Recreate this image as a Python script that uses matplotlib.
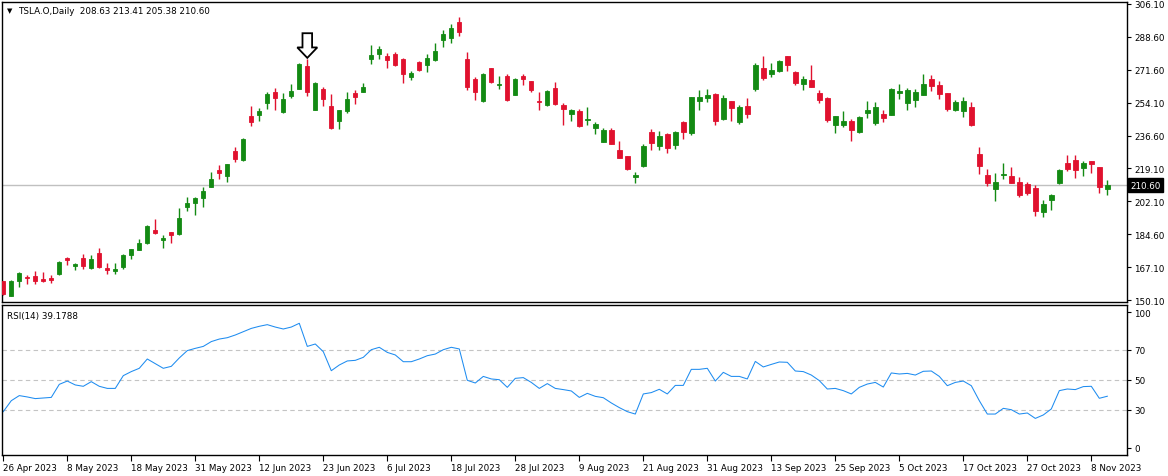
import matplotlib
matplotlib.use('Agg')
import matplotlib.pyplot as plt
import matplotlib.transforms as mtransforms
from matplotlib.patches import Polygon
import numpy as np

# ---- data (TSLA.O daily, 26 Apr 2023 .. 10 Nov 2023) ----
opens = [160.1, 152.4, 160.3, 162.4, 162.8, 161.2, 161.9, 163.8, 172.3, 168.2,
         172.3, 167.0, 174.9, 167.0, 165.6, 167.7, 173.8, 176.6, 180.3, 187.0,
         181.9, 185.9, 184.9, 199.1, 201.4, 204.0, 209.8, 218.6, 215.6, 228.6,
         224.1, 247.1, 247.8, 253.9, 259.7, 249.4, 257.8, 261.5, 273.4, 250.4,
         261.3, 252.3, 244.6, 249.7, 259.2, 259.9, 277.1, 279.9, 278.7, 279.7,
         277.1, 267.8, 275.5, 274.1, 276.6, 287.3, 288.4, 296.6, 277.1, 266.6,
         255.2, 272.4, 263.6, 268.2, 258.3, 268.2, 265.5, 255.0, 252.9, 261.8,
         252.9, 248.3, 249.7, 245.2, 240.9, 233.6, 239.7, 229.2, 226.0, 215.1,
         220.9, 238.6, 231.4, 237.6, 232.0, 243.9, 238.3, 255.2, 256.6, 258.7,
         245.7, 255.0, 244.1, 252.3, 261.5, 272.4, 269.4, 271.0, 278.7, 270.3,
         264.1, 266.0, 259.2, 256.6, 242.5, 242.5, 244.4, 238.8, 248.8, 243.6,
         248.1, 247.8, 259.4, 254.1, 255.7, 258.3, 266.6, 263.4, 259.2, 250.4,
         249.9, 251.8, 227.0, 216.0, 208.8, 216.2, 215.5, 212.3, 211.2, 209.1,
         196.7, 203.0, 211.9, 222.3, 223.9, 219.8, 223.3, 220.2, 208.63]
highs = [160.3, 160.7, 164.9, 163.5, 165.4, 164.9, 163.3, 170.7, 172.9, 169.8,
         174.3, 173.8, 177.5, 169.6, 169.6, 174.2, 177.0, 182.4, 189.6, 192.8,
         184.4, 185.9, 198.6, 204.4, 204.4, 209.8, 217.6, 221.2, 221.8, 230.7,
         235.5, 252.3, 251.5, 259.7, 261.8, 259.2, 263.9, 275.0, 277.1, 265.0,
         262.4, 258.7, 250.2, 259.7, 260.8, 264.5, 284.5, 284.0, 280.3, 280.8,
         277.6, 270.8, 276.1, 279.7, 285.5, 292.4, 295.6, 299.2, 280.8, 267.6,
         269.7, 272.4, 268.2, 269.2, 267.1, 269.2, 265.5, 259.7, 260.8, 265.0,
         253.9, 250.9, 250.8, 251.8, 243.9, 240.8, 240.8, 233.9, 226.0, 217.6,
         232.3, 240.2, 239.2, 238.1, 239.2, 244.4, 257.1, 260.8, 261.3, 259.2,
         258.1, 255.0, 252.9, 256.6, 275.0, 278.7, 275.0, 276.6, 278.9, 270.8,
         268.2, 273.9, 260.8, 257.1, 247.1, 249.7, 245.5, 247.1, 255.0, 254.5,
         250.2, 261.8, 263.9, 261.8, 261.3, 269.2, 268.7, 265.5, 259.2, 255.5,
         257.1, 254.5, 230.7, 219.1, 217.0, 222.3, 220.2, 214.9, 212.3, 210.7,
         202.8, 206.0, 219.1, 226.5, 226.5, 223.3, 223.3, 220.2, 213.41]
lows = [152.7, 152.4, 157.1, 158.7, 158.7, 159.4, 159.1, 163.3, 168.7, 166.1,
        166.6, 166.6, 167.2, 163.8, 164.0, 166.6, 171.7, 176.6, 179.8, 185.1,
        177.5, 180.3, 184.5, 197.2, 195.1, 199.3, 209.8, 214.0, 212.5, 223.0,
        223.5, 242.0, 244.6, 250.9, 250.4, 248.8, 256.7, 261.5, 257.8, 250.4,
        252.5, 240.4, 240.4, 248.8, 253.4, 259.9, 274.5, 277.1, 272.4, 273.4,
        264.5, 266.0, 270.8, 270.3, 276.1, 283.6, 285.5, 289.2, 261.0, 255.7,
        254.6, 264.6, 261.5, 255.2, 258.3, 263.4, 259.7, 250.4, 252.3, 252.9,
        242.5, 244.6, 241.3, 242.5, 237.8, 233.6, 232.5, 225.1, 218.8, 211.9,
        220.4, 229.3, 229.3, 227.8, 229.9, 235.1, 237.2, 250.4, 254.6, 242.5,
        245.1, 244.6, 243.0, 246.2, 260.4, 266.2, 267.8, 270.4, 271.0, 263.6,
        260.9, 262.5, 254.1, 244.1, 238.3, 241.5, 234.1, 238.3, 246.2, 242.5,
        244.1, 247.8, 256.2, 250.4, 252.0, 258.3, 260.4, 256.2, 249.9, 249.9,
        246.7, 242.0, 216.7, 210.4, 202.5, 214.0, 211.9, 204.6, 205.6, 194.6,
        194.0, 197.7, 211.4, 218.3, 214.6, 215.6, 217.2, 206.7, 205.38]
closes = [153.1, 160.1, 164.3, 161.9, 160.3, 160.1, 160.7, 170.1, 171.4, 169.1,
          168.2, 171.7, 167.7, 166.1, 166.4, 173.8, 177.0, 180.1, 189.1, 185.6,
          183.0, 184.5, 193.3, 201.2, 203.9, 207.6, 213.9, 217.2, 221.8, 224.6,
          235.0, 244.1, 249.9, 258.7, 256.7, 256.0, 260.3, 274.5, 259.5, 264.5,
          256.2, 240.9, 250.2, 256.0, 257.3, 262.4, 279.2, 282.4, 276.8, 274.0,
          269.2, 269.7, 271.5, 277.6, 281.3, 290.3, 293.5, 291.5, 262.5, 259.9,
          269.2, 265.2, 263.9, 255.7, 266.6, 266.7, 260.8, 254.6, 260.3, 253.4,
          250.9, 250.4, 241.8, 245.5, 242.9, 239.7, 232.5, 225.1, 219.3, 216.0,
          231.3, 233.0, 236.5, 230.4, 238.6, 238.8, 257.1, 257.1, 258.1, 244.6,
          256.6, 251.5, 251.8, 248.3, 273.9, 267.3, 271.3, 276.1, 274.1, 264.6,
          266.6, 262.5, 255.7, 245.1, 247.1, 244.4, 239.9, 246.6, 250.2, 251.8,
          246.2, 261.3, 260.3, 260.8, 259.7, 263.9, 263.1, 258.8, 250.9, 254.5,
          255.0, 242.5, 220.9, 211.9, 212.3, 216.5, 211.9, 205.6, 206.7, 197.2,
          200.7, 205.4, 218.6, 219.3, 218.8, 222.3, 221.9, 209.8, 210.60]

rsi = [28.9, 36.2, 39.6, 38.7, 37.6, 38.0, 38.4, 47.1, 49.3, 46.7,
       45.8, 48.9, 45.8, 44.4, 44.4, 52.9, 55.6, 57.8, 64.0, 60.9,
       57.8, 59.1, 64.7, 69.6, 71.1, 72.4, 75.6, 77.3, 78.2, 80.0,
       82.2, 84.4, 85.8, 86.9, 85.3, 84.0, 85.3, 87.8, 72.4, 74.0,
       68.9, 56.2, 60.0, 62.7, 63.1, 65.1, 70.2, 71.8, 68.4, 66.7,
       62.2, 62.2, 64.0, 66.2, 67.3, 70.2, 71.8, 70.7, 49.8, 48.0,
       52.4, 50.7, 50.2, 45.1, 51.1, 51.6, 48.4, 44.4, 47.6, 44.4,
       43.6, 42.7, 38.4, 41.1, 39.1, 38.2, 34.7, 31.6, 28.9, 27.3,
       40.7, 41.6, 43.8, 40.7, 46.4, 46.4, 57.1, 57.1, 57.8, 49.3,
       55.1, 52.4, 52.4, 50.7, 62.4, 58.7, 60.4, 62.0, 61.8, 56.0,
       55.6, 53.3, 49.6, 44.0, 44.4, 42.9, 40.7, 45.1, 47.3, 48.4,
       45.3, 54.7, 54.0, 54.4, 53.3, 55.8, 56.0, 52.4, 46.2, 48.4,
       49.3, 46.2, 36.2, 27.3, 27.3, 31.1, 30.2, 27.3, 28.0, 24.4,
       26.7, 30.7, 42.9, 44.0, 43.6, 45.6, 45.8, 37.8, 39.18]

date_labels = ['26 Apr 2023', '8 May 2023', '18 May 2023', '31 May 2023',
               '12 Jun 2023', '23 Jun 2023', '6 Jul 2023', '18 Jul 2023',
               '28 Jul 2023', '9 Aug 2023', '21 Aug 2023', '31 Aug 2023',
               '13 Sep 2023', '25 Sep 2023', '5 Oct 2023', '17 Oct 2023',
               '27 Oct 2023', '8 Nov 2023']
price_labels = ['306.10', '288.60', '271.60', '254.10', '236.60',
                '219.10', '202.10', '184.60', '167.10', '150.10']
rsi_levels = [30, 50, 70]
last_price = 210.60
arrow_bar = 38

GREEN = '#138a13'
RED = '#e0112e'
BLUE = '#1e8cf0'
FS = 6.3

W, H = 1168, 477


def box(l, t, r, b):
    return [l / W, 1 - b / H, (r - l) / W, (b - t) / H]


fig = plt.figure(figsize=(W / 100, H / 100), dpi=100)
ax = fig.add_axes(box(2, 3, 1127, 303))
ax2 = fig.add_axes(box(2, 306, 1127, 456), sharex=ax)

o = np.array(opens)
h = np.array(highs)
l = np.array(lows)
c = np.array(closes)
x = np.arange(len(o))
cols = np.where(c >= o, GREEN, RED)

# candles
ax.axhline(last_price, color='#c0c0c0', lw=1, zorder=1)
ax.vlines(x, l, h, colors=cols, lw=1, zorder=2)
body_h = np.maximum(np.abs(c - o), 0.3)
ax.bar(x, body_h, bottom=np.minimum(o, c), width=0.55, color=cols,
       edgecolor=cols, lw=0.6, zorder=3)

ax.set_xlim(-0.16, 140.46)
ax.set_ylim(149.05, 307.15)
ax.set_yticks(np.linspace(306.1, 150.1, len(price_labels)))
ax.set_yticklabels(price_labels)
ax.yaxis.tick_right()
ax.tick_params(axis='y', labelsize=FS, length=3, width=0.8, pad=2, colors='black')
ax.tick_params(axis='x', bottom=False, labelbottom=False)

# current price tag
tr = mtransforms.blended_transform_factory(ax.transAxes, ax.transData)
ax.text(1.003, last_price, f'{last_price:.2f}', transform=tr, ha='left', va='center',
        fontsize=FS, color='white', zorder=5,
        bbox=dict(boxstyle='square,pad=0.3', fc='black', ec='black'))

# hollow down arrow over the top candle
ax_x = arrow_bar
tip = h[ax_x] + 0.6
pts = [(ax_x, tip), (ax_x - 1.25, tip + 5.5), (ax_x - 0.6, tip + 5.5),
       (ax_x - 0.6, tip + 13.0), (ax_x + 0.6, tip + 13.0), (ax_x + 0.6, tip + 5.5),
       (ax_x + 1.25, tip + 5.5)]
ax.add_patch(Polygon(pts, closed=True, fc='white', ec='black', lw=1.3, zorder=6))

# RSI pane
for lev in rsi_levels:
    ax2.axhline(lev, color='#c4c4c4', lw=0.8, ls=(0, (4, 3)), zorder=1)
ax2.plot(x, rsi, color=BLUE, lw=0.75, zorder=2)
ax2.set_ylim(0, 100)
ax2.yaxis.tick_right()
ax2.set_yticks([95.3, 70, 50, 30, 4.7])
ax2.set_yticklabels(['100', '70', '50', '30', '0'])
ax2.tick_params(axis='y', labelsize=FS, length=3, width=0.8, pad=2)

ax2.set_xticks(np.arange(0, len(o), 8)[:len(date_labels)])
ax2.set_xticklabels(date_labels, ha='left')
ax2.tick_params(axis='x', labelsize=FS, length=4, width=0.8, pad=2)

for a in (ax, ax2):
    for s in a.spines.values():
        s.set_color('black')
        s.set_linewidth(1)

fig.text(7 / W, 1 - 11 / H, '\u25BC', fontsize=5, va='center', ha='left')
fig.text(18 / W, 1 - 11 / H, 'TSLA.O,Daily  208.63 213.41 205.38 210.60',
         fontsize=FS, va='center', ha='left')
fig.text(7 / W, 1 - 316 / H, 'RSI(14) 39.1788', fontsize=FS, va='center', ha='left')

fig.savefig('out.png', dpi=100, facecolor='white')
